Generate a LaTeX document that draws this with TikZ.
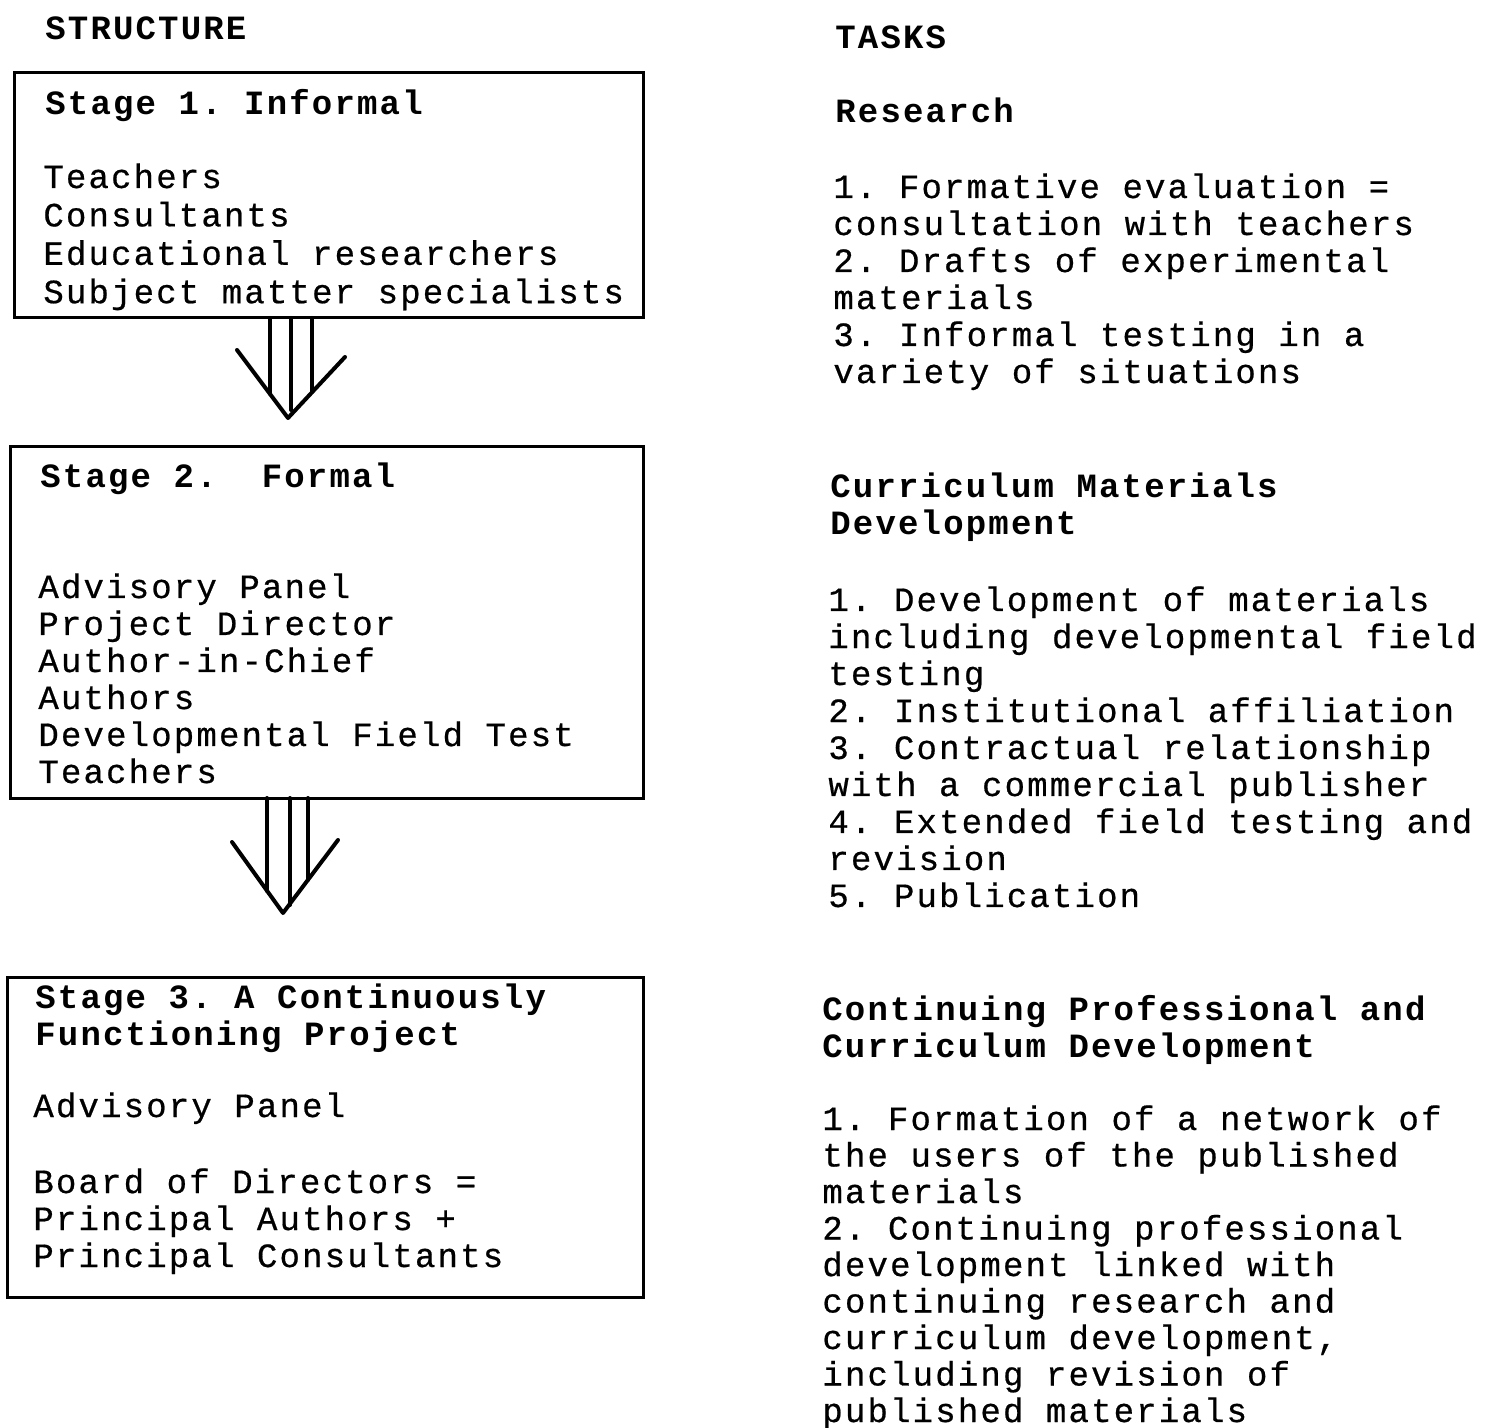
\documentclass[tikz,border=0pt]{standalone}
\usepackage{fontspec}
\newfontfamily\twfont[LetterSpace=6.4, UprightFeatures={FakeBold=0.6}]{Liberation Mono}
\usetikzlibrary{positioning,calc}
\newcommand{\linestack}[1]{\begin{tabular}[t]{@{}l@{}}#1\end{tabular}}
\tikzset{stage/.style={draw,rectangle,line width=1.5pt,anchor=north west,inner sep=0pt,outer sep=0pt}}
\tikzset{txt/.style={anchor=base west,inner sep=0pt,font=\twfont\fontsize{17pt}{18.5pt}\selectfont}}
\tikzset{hd/.style={txt,font=\twfont\bfseries\fontsize{17pt}{18.5pt}\selectfont}}
\tikzset{arrowline/.style={line width=2pt,line cap=round,line join=round}}
\frenchspacing

\begin{document}
\begin{tikzpicture}[x=0.5pt, y=-0.5pt]
        \useasboundingbox (0,0) rectangle (1490,1428);
        % column titles
        \node[hd] (structTitle) at (45,40) {STRUCTURE};
        \node[hd] (taskTitle) at (835,49) {TASKS};
        % stage boxes
        \node[stage, minimum width=314.5pt, minimum height=122.5pt] (stageA) at (14,73) {};
        \node[hd] (stageAhead) at (45,115) {Stage 1. Informal};
        \node[txt, font=\twfont\fontsize{17pt}{19.2pt}\selectfont] (stageAlist) at (43,188) {\linestack{Teachers\\Consultants\\Educational researchers\\Subject matter specialists}};
        \node[stage, minimum width=316.5pt, minimum height=175.5pt] (stageB) at (10,447) {};
        \node[hd] (stageBhead) at (40,488) {Stage 2.\ \ Formal};
        \node[txt] (stageBlist) at (38,598) {\linestack{Advisory Panel\\Project Director\\Author-in-Chief\\Authors\\Developmental Field Test\\Teachers}};
        \node[stage, minimum width=318pt, minimum height=160pt] (stageC) at (7,977) {};
        \node[hd] (stageChead) at (35,1008) {\linestack{Stage 3. A Continuously\\Functioning Project}};
        \node[txt] (stageCpanel) at (33,1117) {Advisory Panel};
        \node[txt] (stageCboard) at (33,1193) {\linestack{Board of Directors =\\Principal Authors +\\Principal Consultants}};
        % tasks
        \node[hd] (resHead) at (835,123) {Research};
        \node[txt] (resList) at (833,198) {\linestack{1. Formative evaluation =\\consultation with teachers\\2. Drafts of experimental\\materials\\3. Informal testing in a\\variety of situations}};
        \node[hd] (cmdHead) at (830,498) {\linestack{Curriculum Materials\\Development}};
        \node[txt] (cmdList) at (828,611) {\linestack{1. Development of materials\\including developmental field\\testing\\2. Institutional affiliation\\3. Contractual relationship\\with a commercial publisher\\4. Extended field testing and\\revision\\5. Publication}};
        \node[hd] (cpdHead) at (822,1020) {\linestack{Continuing Professional and\\Curriculum Development}};
        \node[txt, font=\twfont\fontsize{17pt}{18.25pt}\selectfont] (cpdList) at (822,1130) {\linestack{1. Formation of a network of\\the users of the published\\materials\\2. Continuing professional\\development linked with\\continuing research and\\curriculum development,\\including revision of\\published materials}};
        % triple arrows between stages
        \coordinate (tipA) at (288,418);
        \draw[arrowline] (237,350) -- (tipA) -- (345,357);
        \foreach \sx/\ey in {270/394, 291/410, 312/392}
            \draw[arrowline] (\sx,0 |- stageA.south) -- (\sx,\ey);
        \coordinate (tipB) at (283,913);
        \draw[arrowline] (232,842) -- (tipB) -- (338,840);
        \foreach \sx/\ey in {267/891, 290/905, 308/880}
            \draw[arrowline] (\sx,0 |- stageB.south) -- (\sx,\ey);
\end{tikzpicture}
\end{document}
